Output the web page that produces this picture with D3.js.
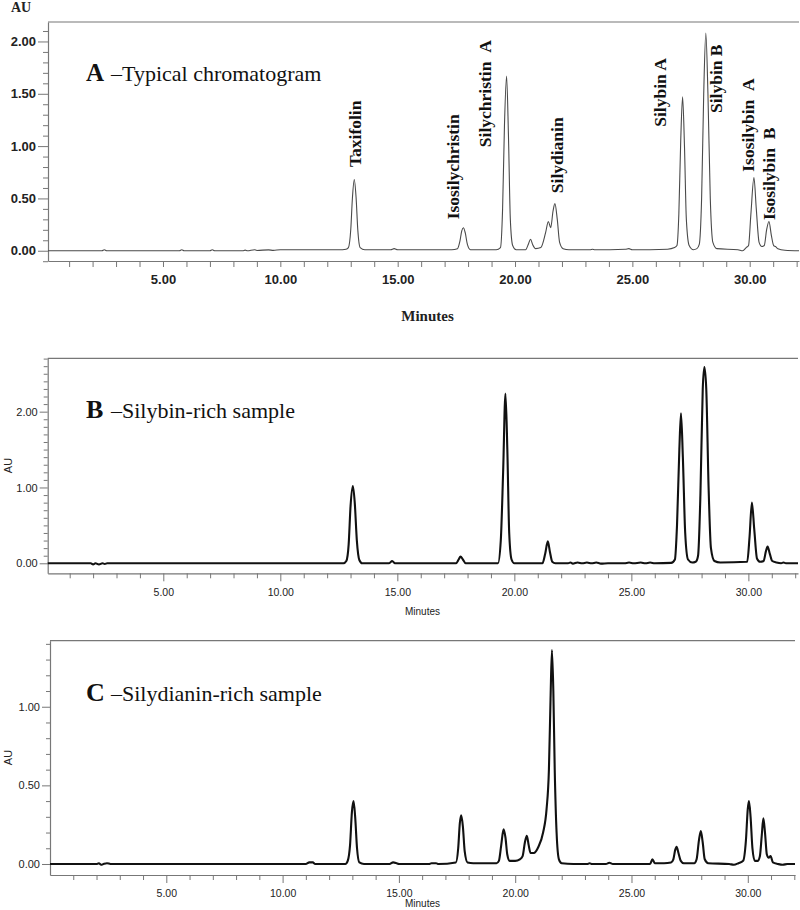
<!DOCTYPE html>
<html><head><meta charset="utf-8">
<script src="https://cdn.jsdelivr.net/npm/d3@7"></script>
<style>body{margin:0;background:#fff}</style>
</head><body><svg id="c" width="800" height="910"></svg>
<script>
// ---------- data ----------
const xTickValues = [5, 10, 15, 20, 25, 30];
const xMinorValues = d3.range(1, 33);
const yTicksA = [0, 0.5, 1, 1.5, 2];
const yTicksB = [0, 1, 2];
const yTicksC = [0, 0.5, 1];
const titleLetters = ["A", "B", "C"];
const titleTexts = ["\u2013Typical chromatogram", "\u2013Silybin-rich sample", "\u2013Silydianin-rich sample"];
const axisUnit = "AU";
const axisTime = "Minutes";

const peakNamesA = ["Taxifolin", "Isosilychristin", "Silychristin\u00a0\u00a0A", "Silydianin", "Silybin A", "Silybin B", "Isosilybin\u00a0\u00a0A", "Isosilybin\u00a0\u00a0B"];
const peakLabelTimesA = [13.43, 17.62, 18.99, 22.06, 26.45, 28.84, 30.18, 31.07];
const peakLabelLevelsA = [0.80, 0.30, 0.99, 0.55, 1.185, 1.316, 0.755, 0.293];

const traceA = [[0.1,0],[2.4,0],[2.5,0.01],[2.6,0],[5.7,0],[5.8,0.01],[5.9,0],[7.0,0],[7.1,0.01],[7.2,0],[8.4,0],[8.5,0.006],[8.6,0],[8.9,0.01],[9.0,0.003],[9.5,0.008],[9.7,0.004],[10.0,0.01],[10.5,0.01],[11.5,0.01],[12.5,0.01],[12.8,0.015],
[12.9,0.03],[13.0,0.2],[13.07,0.5],[13.15,0.68],[13.23,0.5],[13.3,0.2],[13.4,0.03],[13.6,0.01],
[14.7,0.01],[14.85,0.02],[15.0,0.01],[17.3,0.01],
[17.55,0.02],[17.65,0.09],[17.73,0.19],[17.8,0.22],[17.88,0.17],[17.97,0.06],[18.1,0.01],[19.2,0.01],
[19.38,0.03],[19.47,0.4],[19.55,1.2],[19.64,1.67],[19.72,1.1],[19.8,0.3],[19.9,0.05],[20.05,0.01],
[20.45,0.01],[20.58,0.07],[20.66,0.11],[20.75,0.06],[20.88,0.02],
[21.1,0.03],[21.3,0.17],[21.42,0.28],[21.52,0.22],[21.62,0.38],[21.7,0.45],[21.8,0.3],[21.9,0.08],[22.05,0.02],[22.3,0.01],
[23.2,0.01],[23.3,0.015],[23.4,0.01],[24.7,0.015],[24.85,0.02],[25.0,0.01],[26.5,0.015],[26.8,0.03],
[26.9,0.05],[26.98,0.35],[27.06,1.05],[27.14,1.47],[27.22,1.0],[27.3,0.3],[27.42,0.05],[27.6,0.01],[27.75,0.02],
[27.85,0.06],[27.95,0.5],[28.04,1.5],[28.13,2.08],[28.22,1.5],[28.32,0.5],[28.43,0.08],[28.6,0.02],[29.5,0.01],[29.7,0.0],[29.85,0.03],
[29.95,0.05],[30.05,0.35],[30.18,0.70],[30.28,0.4],[30.4,0.08],[30.52,0.04],
[30.62,0.05],[30.72,0.2],[30.82,0.28],[30.92,0.15],[31.02,0.05],[31.1,0.04],[31.2,0.02],[31.5,0.005],[32.1,0]];

const traceB = [[0.06,0],[1.9,0],[2.0,-0.015],[2.1,0],[2.25,-0.015],[2.4,0],[2.5,-0.01],[2.6,0],[12.7,0],
[12.82,0.03],[12.92,0.25],[13.0,0.75],[13.1,1.02],[13.18,0.8],[13.27,0.3],[13.38,0.04],[13.5,0],
[14.65,0],[14.78,0.03],[14.9,0],
[17.5,0],[17.62,0.05],[17.7,0.09],[17.8,0.05],[17.92,0],
[19.3,0],[19.42,0.3],[19.52,1.2],[19.62,2.24],[19.7,1.5],[19.78,0.4],[19.88,0.05],[20.0,0],
[21.2,0],[21.32,0.13],[21.43,0.29],[21.52,0.15],[21.62,0.02],[21.75,0],
[22.3,0],[22.4,0.01],[22.5,-0.005],[22.7,0.01],[22.9,0],[23.1,0.01],[23.3,0],[23.5,0.01],[23.7,-0.005],[24.0,0],[24.7,0],[24.9,0.01],[25.1,0],[25.4,0.01],[25.6,0],[25.8,0.01],[26.0,0],[26.7,0.005],
[26.86,0.05],[26.95,0.5],[27.05,1.5],[27.12,1.98],[27.2,1.4],[27.3,0.4],[27.42,0.05],[27.6,0.01],[27.75,0.02],
[27.85,0.1],[27.95,0.9],[28.05,2.3],[28.12,2.59],[28.2,2.3],[28.3,1.0],[28.4,0.2],[28.55,0.03],[28.8,0.01],
[29.95,0.02],[30.05,0.35],[30.15,0.80],[30.25,0.45],[30.37,0.06],[30.5,0.02],
[30.65,0.03],[30.75,0.16],[30.82,0.22],[30.92,0.12],[31.02,0.03],[31.2,0.01],[31.4,0],[31.5,0.01],[31.6,0],[32.12,0]];

const traceC = [[0,0],[2.0,0],[2.1,0.005],[2.2,-0.005],[2.3,0],[2.45,0.005],[2.6,0],[11.0,0],[11.15,0.01],[11.3,0.01],[11.4,0],[12.7,0],
[12.8,0.02],[12.9,0.12],[12.98,0.33],[13.05,0.40],[13.12,0.3],[13.2,0.1],[13.3,0.01],[13.5,0],
[14.6,0],[14.75,0.01],[14.9,0.005],[15.0,0],[16.3,0],[16.4,0.005],[16.6,0.005],[16.7,0],
[17.45,0.01],[17.55,0.1],[17.62,0.26],[17.68,0.31],[17.75,0.24],[17.83,0.08],[17.95,0.01],[18.2,0.005],[19.2,0.005],
[19.3,0.02],[19.4,0.12],[19.5,0.22],[19.58,0.17],[19.66,0.06],[19.76,0.02],[20.0,0.02],[20.2,0.03],
[20.32,0.05],[20.42,0.14],[20.5,0.18],[20.58,0.12],[20.66,0.07],[20.8,0.07],[21.0,0.11],[21.2,0.2],[21.35,0.35],[21.45,0.6],[21.52,1.05],[21.58,1.36],[21.64,1.1],[21.7,0.6],[21.78,0.2],[21.88,0.03],[22.0,0.005],
[22.5,0],[23.1,0],[23.2,0.005],[23.3,0],[23.9,0],[24.05,0.008],[24.2,0],[25.8,0],[25.9,0.03],[26.0,0.005],[26.4,0.005],[26.7,0.01],
[26.8,0.03],[26.88,0.09],[26.94,0.11],[27.02,0.07],[27.12,0.02],[27.25,0.005],[27.7,0.005],
[27.8,0.03],[27.9,0.15],[27.98,0.21],[28.06,0.14],[28.15,0.03],[28.3,0.005],[29.2,0],[29.4,-0.005],[29.6,0.005],
[29.8,0.02],[29.92,0.15],[30.0,0.35],[30.05,0.40],[30.12,0.3],[30.2,0.1],[30.3,0.02],[30.42,0.02],
[30.52,0.05],[30.6,0.18],[30.67,0.29],[30.74,0.2],[30.82,0.06],[30.9,0.04],[30.98,0.05],[31.08,0.01],[31.3,0],[31.5,-0.005],[31.7,0],[32.03,0]];

// ---------- layout ----------
const svg = d3.select("#c");
const axisColor = "#777";

const panels = [
  {trace: traceA, xd:[0.1,32.1], xr:[48,799], yd:[-0.098,2.186], yr:[261,22], yMajor:yTicksA, yMinorMax:21, yMinorMin:-1,
   lineColor:"#4a4a4a", lineWidth:1.1, yMajorLen:10, yMinorLen:5, yPad:2, xMajorLen:6, xMinorLen:6, xPad:8,
   yFont:"bold 13px Arial, 'Liberation Sans', sans-serif", xFont:"bold 13px Arial, 'Liberation Sans', sans-serif",
   titleY:81, titleSize:25},
  {trace: traceB, xd:[0.06,32.12], xr:[47.7,798], yd:[-0.132,2.704], yr:[573.3,358.3], yMajor:yTicksB, yMinorMax:27, yMinorMin:0,
   lineColor:"#111", lineWidth:2.1, yMajorLen:8, yMinorLen:4, yPad:2, xMajorLen:8, xMinorLen:5, xPad:7,
   yFont:"11px Arial, 'Liberation Sans', sans-serif", xFont:"10.5px Arial, 'Liberation Sans', sans-serif",
   titleY:418, titleSize:26},
  {trace: traceC, xd:[0,32.03], xr:[50,795], yd:[-0.070,1.420], yr:[875,640.7], yMajor:yTicksC, yMinorMax:14, yMinorMin:0,
   lineColor:"#111", lineWidth:2.1, yMajorLen:8, yMinorLen:4, yPad:2, xMajorLen:8, xMinorLen:5, xPad:7,
   yFont:"11px Arial, 'Liberation Sans', sans-serif", xFont:"10.5px Arial, 'Liberation Sans', sans-serif",
   titleY:700.5, titleSize:26}
];

panels.forEach((p, i) => {
  const x = d3.scaleLinear().domain(p.xd).range(p.xr);
  const y = d3.scaleLinear().domain(p.yd).range(p.yr);
  const g = svg.append("g");

  g.append("line").attr("x1", p.xr[0]).attr("x2", p.xr[1]).attr("y1", p.yr[1]).attr("y2", p.yr[1])
    .attr("stroke", axisColor).attr("stroke-width", 1.2);

  const yMinor = d3.range(p.yMinorMin, p.yMinorMax + 1).map(k => k / 10).filter(v => !p.yMajor.some(m => Math.abs(m - v) < 1e-9));
  const ym = g.append("g").attr("transform", `translate(${p.xr[0]},0)`)
    .call(d3.axisLeft(y).tickValues(yMinor).tickSize(p.yMinorLen).tickFormat(""));
  ym.select(".domain").remove();
  const yM = g.append("g").attr("transform", `translate(${p.xr[0]},0)`)
    .call(d3.axisLeft(y).tickValues(p.yMajor).tickSize(p.yMajorLen).tickSizeOuter(0).tickPadding(p.yPad).tickFormat(d3.format(".2f")));
  yM.selectAll("text").style("font", p.yFont).attr("fill", "#222");

  const xMinor = xMinorValues.filter(v => !xTickValues.includes(v));
  const xm = g.append("g").attr("transform", `translate(0,${p.yr[0]})`)
    .call(d3.axisBottom(x).tickValues(xMinor).tickSize(p.xMinorLen).tickFormat(""));
  xm.select(".domain").remove();
  const xM = g.append("g").attr("transform", `translate(0,${p.yr[0]})`)
    .call(d3.axisBottom(x).tickValues(xTickValues).tickSize(p.xMajorLen).tickSizeOuter(0).tickPadding(p.xPad).tickFormat(d3.format(".2f")));
  xM.selectAll("text").style("font", p.xFont).attr("fill", "#222");

  g.selectAll(".tick line").attr("stroke", axisColor);
  g.selectAll(".domain").attr("stroke", axisColor).attr("stroke-width", 1.2);

  const line = d3.line().x(d => x(d[0])).y(d => y(d[1])).curve(d3.curveMonotoneX);
  g.append("path").datum(p.trace).attr("d", line).attr("fill", "none")
    .attr("stroke", p.lineColor).attr("stroke-width", p.lineWidth).attr("stroke-linejoin", "round");

  g.append("text").attr("x", 86).attr("y", p.titleY)
    .style("font", `bold ${p.titleSize}px 'Liberation Serif', 'Times New Roman', serif`).attr("fill", "#111")
    .text(titleLetters[i]);
  g.append("text").attr("x", 111).attr("y", p.titleY)
    .style("font", "22px 'Liberation Serif', 'Times New Roman', serif").attr("fill", "#111")
    .text(titleTexts[i]);

  if (i === 0) {
    g.append("text").attr("x", 11).attr("y", 12)
      .style("font", "bold 14px 'Liberation Serif', 'Times New Roman', serif").attr("fill", "#222").text(axisUnit);
    g.append("text").attr("x", 427.5).attr("y", 321).attr("text-anchor", "middle")
      .style("font", "bold 15px 'Liberation Serif', 'Times New Roman', serif").attr("fill", "#222").text(axisTime);
    peakNamesA.forEach((name, k) => {
      const px = x(peakLabelTimesA[k]), py = y(peakLabelLevelsA[k]);
      g.append("text").attr("transform", `translate(${px},${py}) rotate(-90)`)
        .style("font", "bold 17.5px 'Liberation Serif', 'Times New Roman', serif").attr("fill", "#111")
        .text(name);
    });
  } else {
    const auY = i === 1 ? 465.5 : 757.5;
    g.append("text").attr("transform", `translate(11.5,${auY}) rotate(-90)`).attr("text-anchor", "middle")
      .style("font", "11px Arial, 'Liberation Sans', sans-serif").attr("fill", "#222").text(axisUnit);
    g.append("text").attr("x", 422.5).attr("y", i === 1 ? 615 : 907).attr("text-anchor", "middle")
      .style("font", "10px Arial, 'Liberation Sans', sans-serif").attr("fill", "#222").text(axisTime);
  }
});
</script>
</body></html>
